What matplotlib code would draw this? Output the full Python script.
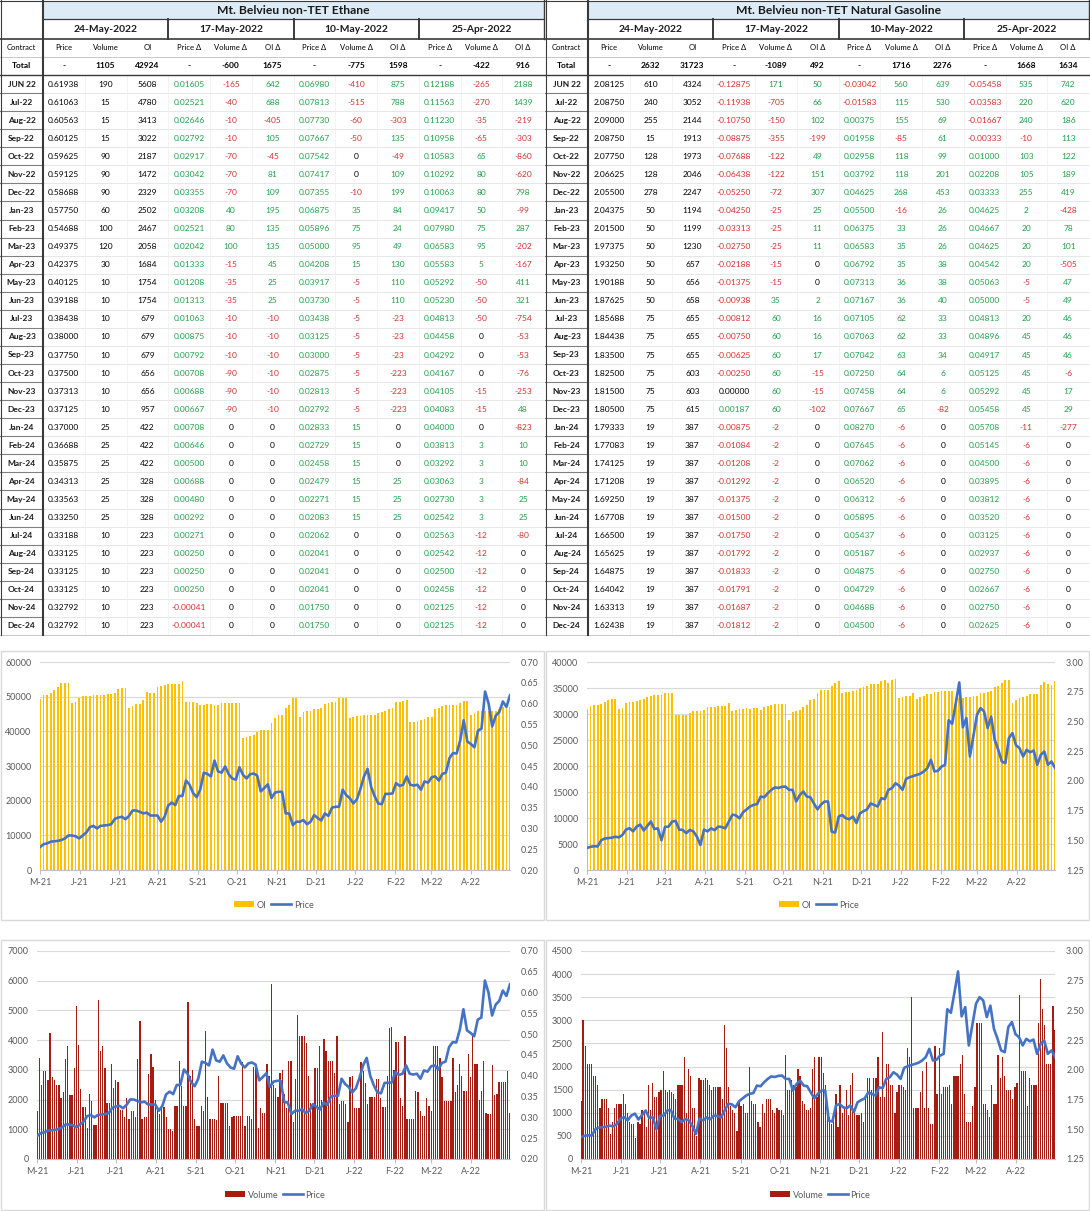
import numpy as np
import pandas as pd
import matplotlib
matplotlib.use('Agg')
import matplotlib.pyplot as plt
import matplotlib.dates as mdates
from matplotlib.patches import Rectangle
from matplotlib.lines import Line2D
from matplotlib.ticker import FormatStrFormatter

plt.rcParams['font.family'] = ['Lato', 'DejaVu Sans']

# ---------------- table data ----------------
contracts = ['JUN 22', 'Jul-22', 'Aug-22', 'Sep-22', 'Oct-22', 'Nov-22', 'Dec-22',
             'Jan-23', 'Feb-23', 'Mar-23', 'Apr-23', 'May-23', 'Jun-23', 'Jul-23',
             'Aug-23', 'Sep-23', 'Oct-23', 'Nov-23', 'Dec-23', 'Jan-24', 'Feb-24',
             'Mar-24', 'Apr-24', 'May-24', 'Jun-24', 'Jul-24', 'Aug-24', 'Sep-24',
             'Oct-24', 'Nov-24', 'Dec-24']
date_headers = ['24-May-2022', '17-May-2022', '10-May-2022', '25-Apr-2022']
col_headers = ['Price', 'Volume', 'OI', 'Price Δ', 'Volume Δ', 'OI Δ',
               'Price Δ', 'Volume Δ', 'OI Δ', 'Price Δ', 'Volume Δ', 'OI Δ']

eth_totals = ['-', '1105', '42924', '-', '-600', '1675', '-', '-775', '1598', '-', '-422', '916']
eth_price = [0.61938, 0.61063, 0.60563, 0.60125, 0.59625, 0.59125, 0.58688, 0.57750, 0.54688,
             0.49375, 0.42375, 0.40125, 0.39188, 0.38438, 0.38000, 0.37750, 0.37500, 0.37313,
             0.37125, 0.37000, 0.36688, 0.35875, 0.34313, 0.33563, 0.33250, 0.33188, 0.33125,
             0.33125, 0.33125, 0.32792, 0.32792]
eth_vol = [190, 15, 15, 15, 90, 90, 90, 60, 100, 120, 30, 10, 10, 10, 10, 10, 10, 10, 10,
           25, 25, 25, 25, 25, 25, 10, 10, 10, 10, 10, 10]
eth_oi = [5608, 4780, 3413, 3022, 2187, 1472, 2329, 2502, 2467, 2058, 1684, 1754, 1754, 679,
          679, 679, 656, 656, 957, 422, 422, 422, 328, 328, 328, 223, 223, 223, 223, 223, 223]
eth_dp17 = [0.01605, 0.02521, 0.02646, 0.02792, 0.02917, 0.03042, 0.03355, 0.03208, 0.02521,
            0.02042, 0.01333, 0.01208, 0.01313, 0.01063, 0.00875, 0.00792, 0.00708, 0.00688,
            0.00667, 0.00708, 0.00646, 0.00500, 0.00688, 0.00480, 0.00292, 0.00271, 0.00250,
            0.00250, 0.00250, -0.00041, -0.00041]
eth_dv17 = [-165, -40, -10, -10, -70, -70, -70, 40, 80, 100, -15, -35, -35, -10, -10, -10,
            -90, -90, -90, 0, 0, 0, 0, 0, 0, 0, 0, 0, 0, 0, 0]
eth_doi17 = [642, 688, -405, 105, -45, 81, 109, 195, 135, 135, 45, 25, 25, -10, -10, -10,
             -10, -10, -10, 0, 0, 0, 0, 0, 0, 0, 0, 0, 0, 0, 0]
eth_dp10 = [0.06980, 0.07813, 0.07730, 0.07667, 0.07542, 0.07417, 0.07355, 0.06875, 0.05896,
            0.05000, 0.04208, 0.03917, 0.03730, 0.03438, 0.03125, 0.03000, 0.02875, 0.02813,
            0.02792, 0.02833, 0.02729, 0.02458, 0.02479, 0.02271, 0.02083, 0.02062, 0.02041,
            0.02041, 0.02041, 0.01750, 0.01750]
eth_dv10 = [-410, -515, -60, -50, 0, 0, -10, 35, 75, 95, 15, -5, -5, -5, -5, -5, -5, -5, -5,
            15, 15, 15, 15, 15, 15, 0, 0, 0, 0, 0, 0]
eth_doi10 = [875, 788, -303, 135, -49, 109, 199, 84, 24, 49, 130, 110, 110, -23, -23, -23,
             -223, -223, -223, 0, 0, 0, 25, 25, 25, 0, 0, 0, 0, 0, 0]
eth_dp25 = [0.12188, 0.11563, 0.11230, 0.10958, 0.10583, 0.10292, 0.10063, 0.09417, 0.07980,
            0.06583, 0.05583, 0.05292, 0.05230, 0.04813, 0.04458, 0.04292, 0.04167, 0.04105,
            0.04083, 0.04000, 0.03813, 0.03292, 0.03063, 0.02730, 0.02542, 0.02563, 0.02542,
            0.02500, 0.02458, 0.02125, 0.02125]
eth_dv25 = [-265, -270, -35, -65, 65, 80, 80, 50, 75, 95, 5, -50, -50, -50, 0, 0, 0, -15, -15,
            0, 3, 3, 3, 3, 3, -12, -12, -12, -12, -12, -12]
eth_doi25 = [2188, 1439, -219, -303, -860, -620, 798, -99, 287, -202, -167, 411, 321, -754,
             -53, -53, -76, -253, 48, -823, 10, 10, -84, 25, 25, -80, 0, 0, 0, 0, 0]

gas_totals = ['-', '2632', '31723', '-', '-1089', '492', '-', '1716', '2276', '-', '1668', '1634']
gas_price = [2.08125, 2.08750, 2.09000, 2.08750, 2.07750, 2.06625, 2.05500, 2.04375, 2.01500,
             1.97375, 1.93250, 1.90188, 1.87625, 1.85688, 1.84438, 1.83500, 1.82500, 1.81500,
             1.80500, 1.79333, 1.77083, 1.74125, 1.71208, 1.69250, 1.67708, 1.66500, 1.65625,
             1.64875, 1.64042, 1.63313, 1.62438]
gas_vol = [610, 240, 255, 15, 128, 128, 278, 50, 50, 50, 50, 50, 50, 75, 75, 75, 75, 75, 75,
           19, 19, 19, 19, 19, 19, 19, 19, 19, 19, 19, 19]
gas_oi = [4324, 3052, 2144, 1913, 1973, 2046, 2247, 1194, 1199, 1230, 657, 656, 658, 655, 655,
          655, 603, 603, 615, 387, 387, 387, 387, 387, 387, 387, 387, 387, 387, 387, 387]
gas_dp17 = [-0.12875, -0.11938, -0.10750, -0.08875, -0.07688, -0.06438, -0.05250, -0.04250,
            -0.03313, -0.02750, -0.02188, -0.01375, -0.00938, -0.00812, -0.00750, -0.00625,
            -0.00250, 0.00000, 0.00187, -0.00875, -0.01084, -0.01208, -0.01292, -0.01375,
            -0.01500, -0.01750, -0.01792, -0.01833, -0.01791, -0.01687, -0.01812]
gas_dv17 = [171, -705, -150, -355, -122, -122, -72, -25, -25, -25, -15, -15, 35, 60, 60, 60,
            60, 60, 60, -2, -2, -2, -2, -2, -2, -2, -2, -2, -2, -2, -2]
gas_doi17 = [50, 66, 102, -199, 49, 151, 307, 25, 11, 11, 0, 0, 2, 16, 16, 17, -15, -15, -102,
             0, 0, 0, 0, 0, 0, 0, 0, 0, 0, 0, 0]
gas_dp10 = [-0.03042, -0.01583, 0.00375, 0.01958, 0.02958, 0.03792, 0.04625, 0.05500, 0.06375,
            0.06583, 0.06792, 0.07313, 0.07167, 0.07105, 0.07063, 0.07042, 0.07250, 0.07458,
            0.07667, 0.08270, 0.07645, 0.07062, 0.06520, 0.06312, 0.05895, 0.05437, 0.05187,
            0.04875, 0.04729, 0.04688, 0.04500]
gas_dv10 = [560, 115, 155, -85, 118, 118, 268, -16, 33, 35, 35, 36, 36, 62, 62, 63, 64, 64, 65,
            -6, -6, -6, -6, -6, -6, -6, -6, -6, -6, -6, -6]
gas_doi10 = [639, 530, 69, 61, 99, 201, 453, 26, 26, 26, 38, 38, 40, 33, 33, 34, 6, 6, -82,
             0, 0, 0, 0, 0, 0, 0, 0, 0, 0, 0, 0]
gas_dp25 = [-0.05458, -0.03583, -0.01667, -0.00333, 0.01000, 0.02208, 0.03333, 0.04625, 0.04667,
            0.04625, 0.04542, 0.05063, 0.05000, 0.04813, 0.04896, 0.04917, 0.05125, 0.05292,
            0.05458, 0.05708, 0.05145, 0.04500, 0.03895, 0.03812, 0.03520, 0.03125, 0.02937,
            0.02750, 0.02667, 0.02750, 0.02625]
gas_dv25 = [535, 220, 240, -10, 103, 105, 255, 2, 20, 20, 20, -5, -5, 20, 45, 45, 45, 45, 45,
            -11, -6, -6, -6, -6, -6, -6, -6, -6, -6, -6, -6]
gas_doi25 = [742, 620, 186, 113, 122, 189, 419, -428, 78, 101, -505, 47, 49, 46, 46, 46, -6, 17,
             29, -277, 0, 0, 0, 0, 0, 0, 0, 0, 0, 0, 0]

# ---------------- chart data (May-21 .. May-22, evenly spread) ----------------
eth_price_hist = [
    0.255, 0.262, 0.264, 0.268, 0.269, 0.270, 0.272, 0.276, 0.283, 0.283, 0.281,
    0.276, 0.283, 0.290, 0.303, 0.306, 0.300, 0.306, 0.307, 0.308, 0.310, 0.323,
    0.326, 0.328, 0.322, 0.330, 0.343, 0.343, 0.340, 0.336, 0.338, 0.331, 0.331,
    0.331, 0.316, 0.328, 0.355, 0.362, 0.356, 0.378, 0.378, 0.415, 0.405, 0.385,
    0.375, 0.393, 0.434, 0.431, 0.425, 0.463, 0.437, 0.434, 0.449, 0.430, 0.420,
    0.417, 0.447, 0.429, 0.420, 0.430, 0.432, 0.427, 0.389, 0.397, 0.406, 0.373,
    0.386, 0.388, 0.388, 0.336, 0.336, 0.308, 0.316, 0.316, 0.320, 0.310, 0.316,
    0.332, 0.325, 0.319, 0.336, 0.330, 0.350, 0.352, 0.352, 0.393, 0.380, 0.373,
    0.360, 0.370, 0.395, 0.425, 0.443, 0.400, 0.377, 0.360, 0.358, 0.383, 0.383,
    0.384, 0.409, 0.402, 0.405, 0.425, 0.405, 0.403, 0.405, 0.393, 0.413, 0.410,
    0.423, 0.425, 0.415, 0.431, 0.434, 0.469, 0.481, 0.480, 0.511, 0.560, 0.509,
    0.503, 0.495, 0.535, 0.540, 0.629, 0.600, 0.545, 0.571, 0.580, 0.605, 0.592, 0.620]
eth_oi_hist = [
    49300, 50400, 50600, 51000, 52000, 52800, 53800, 53800, 54000, 48200, 48500,
    49600, 50100, 50100, 50100, 50600, 50400, 50600, 50500, 50800, 50900, 51000,
    52200, 52500, 52500, 46600, 47400, 48000, 48000, 49100, 51400, 51100, 51000,
    52800, 53200, 53500, 53700, 53700, 53700, 53700, 54500, 48600, 48600, 48400,
    48300, 47700, 47700, 47900, 47900, 47600, 47700, 48200, 48200, 48200, 48200,
    48200, 48200, 38100, 38500, 38700, 38800, 39900, 40300, 40500, 40500, 42400,
    43800, 44800, 44800, 46700, 47700, 49600, 49600, 44200, 45700, 45800, 46000,
    46300, 46500, 46700, 47800, 48200, 48400, 48400, 49600, 49600, 49600, 43800,
    44000, 44300, 44500, 44700, 44600, 44600, 44800, 45300, 45700, 45800, 46400,
    46800, 48400, 48500, 48700, 49100, 42600, 42700, 43000, 43400, 43600, 44000,
    44200, 46400, 46600, 47200, 47700, 47700, 47600, 47600, 48200, 48700, 48700,
    44800, 45300, 45800, 45800, 45800, 45800, 45800, 45900, 46500, 47000, 47000, 47000]
eth_vol_hist = [
    1600, 3400, 2500, 2950, 2950, 2650, 4250, 2750, 2650, 2500,
    2500, 2050, 2250, 3350, 3800, 2150, 2150, 3050, 5150, 3850,
    2350, 1750, 1750, 1050, 2200, 1950, 1150, 1150, 5350, 3650,
    3800, 3050, 1900, 1900, 3200, 2400, 2650, 2600, 1650, 1650,
    1400, 2050, 1350, 1600, 1600, 1400, 3350, 4650, 1350, 1400,
    1400, 2850, 3550, 3100, 2000, 1700, 1500, 1750, 1750, 1400,
    1000, 1000, 950, 1800, 1800, 3300, 2450, 1800, 1800, 5300,
    2800, 3000, 1350, 1100, 1100, 1800, 1600, 4300, 2100, 1350,
    1350, 1350, 1300, 2800, 1900, 1900, 1900, 1900, 1100, 1400,
    1450, 1450, 1450, 1450, 3250, 1100, 1450, 1450, 1350, 3100,
    3100, 1050, 1700, 1550, 1550, 3200, 2800, 5900, 2500, 2400,
    2100, 2900, 3000, 2200, 1700, 3300, 3300, 1250, 2700, 4850,
    4150, 4150, 4150, 3900, 2800, 1900, 1850, 3050, 3050, 3800,
    2000, 4050, 3650, 3300, 3300, 3300, 2900, 4150, 1850, 1950,
    1950, 1850, 1250, 2750, 2800, 1700, 1700, 1700, 3250, 2950,
    2550, 1850, 2100, 2100, 2100, 2700, 2700, 2050, 1750, 1750,
    2800, 4400, 4450, 3000, 3950, 3950, 2050, 1800, 4150, 1350,
    1350, 1350, 1350, 2300, 2250, 1600, 1450, 1450, 2050, 1800,
    1600, 3800, 3800, 3800, 3400, 2750, 1950, 1950, 1950, 1950,
    3400, 2250, 2500, 3200, 2800, 2300, 2300, 3550, 2750, 4250,
    3200, 3200, 2000, 2300, 3300, 1550, 1500, 1500, 3150, 2150,
    2200, 2600, 2600, 2600, 2600, 2950, 1550]

gas_price_hist = [
    1.435, 1.445, 1.450, 1.448, 1.500, 1.515, 1.518, 1.522, 1.530, 1.525, 1.545,
    1.590, 1.602, 1.575, 1.615, 1.632, 1.582, 1.620, 1.658, 1.595, 1.600, 1.500,
    1.612, 1.615, 1.657, 1.663, 1.590, 1.587, 1.560, 1.587, 1.575, 1.530, 1.460,
    1.590, 1.575, 1.600, 1.585, 1.615, 1.612, 1.600, 1.657, 1.715, 1.710, 1.685,
    1.735, 1.760, 1.784, 1.798, 1.805, 1.868, 1.862, 1.896, 1.924, 1.945, 1.940,
    1.950, 1.952, 1.924, 1.924, 1.826, 1.880, 1.910, 1.868, 1.862, 1.810, 1.760,
    1.800, 1.826, 1.826, 1.573, 1.565, 1.700, 1.713, 1.685, 1.677, 1.700, 1.645,
    1.727, 1.745, 1.760, 1.810, 1.798, 1.784, 1.854, 1.846, 1.924, 1.938, 1.980,
    1.960, 1.924, 2.017, 2.031, 2.040, 2.050, 2.060, 2.079, 2.107, 2.177, 2.079,
    2.085, 2.120, 2.135, 2.510, 2.480, 2.650, 2.828, 2.450, 2.528, 2.205, 2.380,
    2.556, 2.612, 2.584, 2.444, 2.540, 2.345, 2.261, 2.163, 2.149, 2.360, 2.402,
    2.300, 2.275, 2.205, 2.261, 2.240, 2.255, 2.135, 2.219, 2.247, 2.135, 2.163, 2.110]
gas_oi_hist = [
    30900, 31500, 31800, 31800, 32000, 32300, 32600, 32800, 32900, 30900, 31100,
    32100, 32400, 32400, 32500, 32700, 32900, 33200, 33500, 33600, 33700, 33700,
    34000, 34100, 34100, 29800, 29800, 29800, 29800, 30200, 30600, 30600, 30600,
    30800, 31300, 31300, 31400, 31600, 31600, 31600, 32200, 30500, 30800, 31000,
    31000, 31100, 31000, 31100, 31100, 30800, 31400, 31600, 31800, 31900, 31900,
    31900, 31900, 28900, 30400, 30600, 30700, 31300, 31800, 32700, 32900, 34000,
    34700, 34700, 34700, 35400, 35900, 36300, 34000, 34300, 34300, 34400, 34700,
    35000, 35100, 35300, 35700, 35700, 35700, 36300, 36600, 35900, 36500, 36700,
    33100, 33300, 33400, 33500, 34100, 32900, 33200, 33400, 33900, 33800, 34300,
    34300, 34500, 34500, 34500, 34400, 32900, 33100, 33100, 33300, 33300, 33400,
    33400, 34100, 34100, 34200, 34500, 35100, 35300, 35900, 36600, 36600, 32100,
    32600, 33100, 33300, 33500, 33900, 33900, 33800, 35600, 36200, 35700, 35600, 36300]
gas_vol_hist = [
    1250, 3000, 2450, 2050, 2050, 2050, 1800, 1800, 1600, 1100,
    1300, 1300, 1300, 1100, 550, 800, 1100, 1200, 1200, 1200,
    1400, 1200, 1000, 800, 750, 750, 450, 800, 750, 1050,
    1000, 700, 1600, 1050, 1650, 1350, 1350, 1450, 1500, 1900,
    1500, 1450, 1500, 1450, 1400, 1300, 1600, 1600, 1600, 2200,
    1000, 1950, 1800, 1100, 1100, 500, 1750, 1700, 1700, 1750,
    1700, 1600, 1500, 1550, 1550, 1550, 1550, 1300, 2900, 2400,
    1550, 1150, 1050, 1000, 600, 1250, 1150, 1200, 1000, 1000,
    2000, 1250, 1200, 1200, 800, 700, 1200, 1000, 1300, 1300,
    1300, 1050, 1000, 1100, 1050, 1050, 950, 2250, 1500, 1500,
    1700, 1600, 1550, 1950, 1800, 1250, 1200, 1050, 1050, 1100,
    1950, 2200, 1350, 2200, 2200, 1850, 1600, 900, 900, 750,
    1000, 1400, 700, 1600, 1000, 1100, 1500, 950, 1600, 1850,
    1000, 950, 950, 1000, 800, 1300, 1750, 1750, 1500, 1750,
    1750, 2200, 1350, 2750, 1350, 2050, 2050, 1600, 1600, 1000,
    1450, 1600, 1600, 1550, 1500, 2400, 2200, 3500, 1100, 1100,
    1100, 1450, 1900, 1100, 2100, 1100, 750, 750, 2450, 1400,
    2400, 1400, 1550, 1550, 1550, 1600, 1200, 1800, 1800, 1800,
    2050, 2250, 1400, 800, 800, 800, 1150, 1550, 2950, 2950,
    2950, 1200, 1200, 1050, 900, 1600, 1200, 1200, 2250, 1750,
    2200, 1800, 1500, 1500, 1500, 1300, 1550, 1650, 3550, 1900,
    1900, 1900, 1150, 1750, 1600, 1600, 1600, 2950, 3900, 3250,
    2900, 2050, 2050, 2050, 3300, 2800]

# ---------------- figure ----------------
W, H = 1090, 1211
fig = plt.figure(figsize=(W / 100, H / 100), dpi=100)
tab = fig.add_axes([0, 0, 1, 1])
tab.set_xlim(0, W)
tab.set_ylim(H, 0)
tab.axis('off')

GREEN = '#22A04A'
RED = '#D3302F'
DARK = '#3A3A3A'


def val_color(v):
    if v > 0:
        return GREEN
    if v < 0:
        return RED
    return 'black'


def draw_table(x0, title, totals, price, vol, oi, deltas):
    cx = x0 + 43
    rx = x0 + 544
    cw = (rx - cx) / 12
    edges = [cx + i * cw for i in range(13)]
    top_data, bottom = 75, 635
    rh = (bottom - top_data) / len(contracts)

    tab.add_patch(Rectangle((cx, 0.5), rx - cx, 18.5, fc='#DDEBF7', ec='none'))
    tab.text((cx + rx) / 2, 10, title, ha='center', va='center', fontsize=8.7,
             fontweight='bold', color='#1A1A1A')
    for g, d in enumerate(date_headers):
        tab.text(edges[3 * g] + 1.5 * cw, 29, d, ha='center', va='center',
                 fontsize=7.4, fontweight='bold', color='#1A1A1A')
    tab.text(x0 + 21.5, 48, 'Contract', ha='center', va='center', fontsize=5.5)
    for j, h in enumerate(col_headers):
        tab.text(edges[j] + cw / 2, 48, h, ha='center', va='center', fontsize=5.5)
    tab.text(x0 + 21.5, 66, 'Total', ha='center', va='center', fontsize=6, fontweight='bold')
    for j, t in enumerate(totals):
        tab.text(edges[j] + cw / 2, 66, t, ha='center', va='center', fontsize=6,
                 fontweight='bold')

    cols = [(price, True, False), (vol, False, False), (oi, False, False)]
    for k, d in enumerate(deltas):
        cols.append((d, k % 3 == 0, True))
    for i, c in enumerate(contracts):
        yc = top_data + (i + 0.5) * rh
        tab.text(x0 + 21.5, yc, c, ha='center', va='center', fontsize=6,
                 fontweight='bold', color='#1A1A1A')
        for j, (vals, is_price, colored) in enumerate(cols):
            v = vals[i]
            s = f'{v:.5f}' if is_price else f'{v:d}'
            tab.text(edges[j] + cw / 2, yc, s, ha='center', va='center', fontsize=6,
                     color=val_color(v) if colored else 'black')

    # grid lines
    for i in range(1, len(contracts)):
        y = top_data + i * rh
        tab.plot([cx, rx], [y, y], color='#E3E3E3', lw=0.6)
        tab.plot([x0, cx], [y, y], color='#808080', lw=0.8)
    for e in edges[1:-1]:
        tab.plot([e, e], [top_data, bottom], color='#EFEFEF', lw=0.5)
    tab.plot([x0, rx], [0.5, 0.5], color=DARK, lw=0.8)
    tab.plot([cx, rx], [19, 19], color=DARK, lw=0.9)
    tab.plot([x0, rx], [39, 39], color=DARK, lw=1.2)
    tab.plot([x0, rx], [57, 57], color='#BFBFBF', lw=0.6)
    tab.plot([x0, rx], [75, 75], color=DARK, lw=1.0)
    tab.plot([x0, rx], [bottom, bottom], color='#BFBFBF', lw=0.6)
    tab.plot([x0 + 0.5, x0 + 0.5], [0, bottom], color=DARK, lw=0.8)
    tab.plot([cx, cx], [0, bottom], color=DARK, lw=1.5)
    for g in (3, 6, 9):
        tab.plot([edges[g], edges[g]], [19, 39], color=DARK, lw=1.4)
    tab.plot([rx, rx], [0, 39], color=DARK, lw=1.0)


draw_table(0, 'Mt. Belvieu non-TET Ethane', eth_totals, eth_price, eth_vol, eth_oi,
           [eth_dp17, eth_dv17, eth_doi17, eth_dp10, eth_dv10, eth_doi10,
            eth_dp25, eth_dv25, eth_doi25])
draw_table(545, 'Mt. Belvieu non-TET Natural Gasoline', gas_totals, gas_price, gas_vol, gas_oi,
           [gas_dp17, gas_dv17, gas_doi17, gas_dp10, gas_dv10, gas_doi10,
            gas_dp25, gas_dv25, gas_doi25])

# chart panel borders
for (px, py) in [(0.5, 651), (545.5, 651), (0.5, 940), (545.5, 940)]:
    tab.add_patch(Rectangle((px, py), 543.5, 269 if py == 651 else 270,
                            fill=False, ec='#D9D9D9', lw=1))

# ---------------- charts ----------------
t0 = pd.Timestamp('2021-05-24')
start = mdates.date2num(t0)
end = start + 365
tick_dates = [t0 + pd.DateOffset(months=k) for k in range(12)]
month_ticks = [mdates.date2num(d) for d in tick_dates]
month_labels = [d.strftime('%b')[0] + d.strftime('-%y') for d in tick_dates]
BLUE = '#4472C4'
GREY = '#595959'


def xs(n):
    return start + np.linspace(0, 365, n)


def combo(box, bars, bar_color, bar_label, price, lmax, lstep, rmin, rmax, rstep,
          legend_cx, legend_y, wfrac):
    left, top, right, bottom = box
    ax = fig.add_axes([left / W, 1 - bottom / H, (right - left) / W, (bottom - top) / H])
    ax.set_facecolor('none')
    n = len(bars)
    ax.bar(xs(n), bars, width=365 / (n - 1) * wfrac, color=bar_color, linewidth=0, zorder=2)
    ax.set_xlim(start, end)
    ax.set_ylim(0, lmax)
    ax.set_yticks(np.arange(0, lmax + 1, lstep))
    ax.grid(axis='y', color='#D9D9D9', lw=0.8)
    ax.set_axisbelow(True)
    for s in ('top', 'right', 'left'):
        ax.spines[s].set_visible(False)
    ax.spines['bottom'].set_color('#BFBFBF')
    ax.tick_params(axis='y', length=0, labelsize=6.5, labelcolor=GREY, pad=6)
    ax.set_xticks(month_ticks)
    ax.set_xticklabels(month_labels)
    ax.tick_params(axis='x', length=3, color='#BFBFBF', labelsize=6.5, labelcolor=GREY, pad=3)

    ax2 = ax.twinx()
    ax2.plot(xs(len(price)), price, color=BLUE, lw=1.9, zorder=3)
    ax2.set_ylim(rmin, rmax)
    ax2.set_yticks(np.round(np.arange(rmin, rmax + rstep / 2, rstep), 2))
    ax2.yaxis.set_major_formatter(FormatStrFormatter('%.2f'))
    for s in ('top', 'right', 'left', 'bottom'):
        ax2.spines[s].set_visible(False)
    ax2.tick_params(axis='y', length=0, labelsize=6.5, labelcolor=GREY, pad=8)

    handles = [Rectangle((0, 0), 1, 1, fc=bar_color, ec='none'),
               Line2D([], [], color=BLUE, lw=1.9)]
    fig.legend(handles, [bar_label, 'Price'], loc='center',
               bbox_to_anchor=(legend_cx / W, 1 - legend_y / H), ncol=2, frameon=False,
               fontsize=6.5, labelcolor=GREY, handlelength=2.2, handleheight=0.6,
               columnspacing=0.5, handletextpad=0.3)


combo((40, 662, 510, 870), eth_oi_hist, '#FFC000', 'OI', eth_price_hist,
      60000, 10000, 0.20, 0.70, 0.05, 274, 905, 0.5)
combo((587, 662, 1055, 870), gas_oi_hist, '#FFC000', 'OI', gas_price_hist,
      40000, 5000, 1.25, 3.00, 0.25, 819, 905, 0.5)
combo((37, 951, 510, 1159), eth_vol_hist, '#A61B12', 'Volume', eth_price_hist,
      7000, 1000, 0.20, 0.70, 0.05, 275, 1195, 0.6)
combo((581, 951, 1055, 1159), gas_vol_hist, '#A61B12', 'Volume', gas_price_hist,
      4500, 500, 1.25, 3.00, 0.25, 820, 1195, 0.6)

fig.savefig('out.png', dpi=100, facecolor='white')
